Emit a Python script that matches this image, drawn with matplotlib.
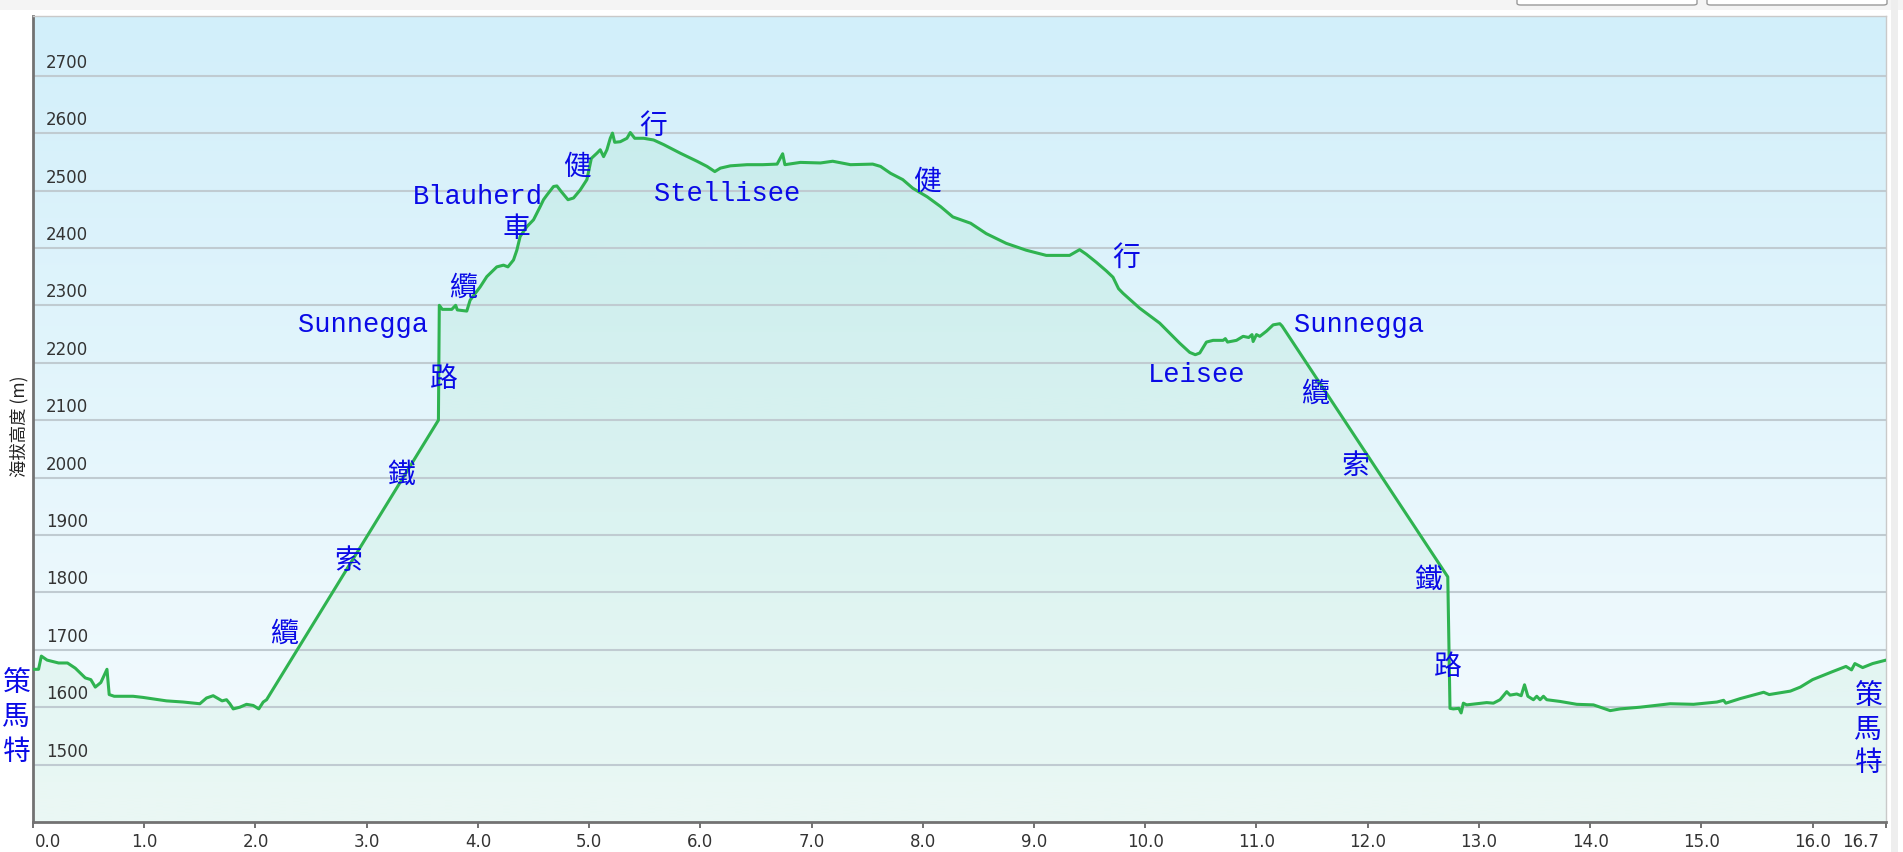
import numpy as np
import matplotlib
matplotlib.use("Agg")
import matplotlib.pyplot as plt
from matplotlib.patches import PathPatch, Rectangle, FancyBboxPatch
from matplotlib.transforms import ScaledTranslation

# ---------------- data ----------------
distance_km = [
    0.00, 0.05, 0.075, 0.127, 0.23, 0.31, 0.38, 0.47, 0.52, 0.56, 0.61, 0.665, 0.685,
    0.73, 0.90, 0.99, 1.20, 1.35, 1.50, 1.56, 1.62, 1.70, 1.74, 1.77, 1.80, 1.86, 1.92,
    1.98, 2.03, 2.07, 2.10,
    3.645, 3.653, 3.68, 3.765, 3.80, 3.815, 3.90, 3.93, 4.02, 4.08, 4.17, 4.23, 4.27,
    4.32, 4.35, 4.38, 4.44, 4.50, 4.56, 4.59, 4.62, 4.68, 4.71, 4.75, 4.81, 4.86, 4.92,
    4.98, 5.02, 5.07, 5.10, 5.13, 5.16, 5.19, 5.21, 5.23, 5.28, 5.34, 5.37, 5.41, 5.49,
    5.58, 5.67, 5.82, 5.97, 6.06, 6.13, 6.18, 6.27, 6.42, 6.56, 6.69, 6.74, 6.76, 6.90,
    7.08, 7.19, 7.35, 7.55, 7.62, 7.71, 7.82, 7.91, 8.04, 8.16, 8.27, 8.43, 8.57, 8.75,
    8.93, 9.11, 9.32, 9.41, 9.47, 9.56, 9.65, 9.71, 9.76, 9.80, 9.95, 10.13, 10.31,
    10.40, 10.45, 10.49, 10.55, 10.61, 10.70, 10.72, 10.74, 10.82, 10.88, 10.93, 10.96,
    10.97, 11.00, 11.03, 11.09, 11.15, 11.21, 11.23,
    12.72, 12.74, 12.77, 12.82, 12.84, 12.86, 12.89, 12.98, 13.07, 13.13, 13.19, 13.25,
    13.28, 13.34, 13.38, 13.41, 13.44, 13.49, 13.52, 13.55, 13.58, 13.61, 13.73, 13.88,
    14.03, 14.09, 14.18, 14.27, 14.45, 14.72, 14.93, 15.14, 15.20, 15.22, 15.35, 15.56,
    15.61, 15.80, 15.89, 16.00, 16.18, 16.30, 16.35, 16.38, 16.45, 16.54, 16.66,
]
elevation_m = [
    1666, 1666, 1689, 1682, 1677, 1677, 1668, 1651, 1648, 1635, 1643, 1666, 1622,
    1619, 1619, 1617, 1611, 1609, 1606, 1616, 1620, 1611, 1613, 1606, 1597, 1600, 1605,
    1603, 1597, 1609, 1613,
    2100, 2300, 2293, 2293, 2300, 2292, 2290, 2309, 2332, 2350, 2367, 2370, 2367,
    2379, 2396, 2420, 2437, 2449, 2472, 2484, 2492, 2507, 2508, 2498, 2484, 2487, 2501,
    2519, 2556, 2565, 2571, 2559, 2571, 2591, 2600, 2584, 2585, 2591, 2601, 2591, 2591,
    2588, 2580, 2565, 2551, 2542, 2533, 2539, 2543, 2545, 2545, 2546, 2564, 2545, 2549,
    2548, 2551, 2545, 2546, 2542, 2530, 2519, 2504, 2489, 2472, 2454, 2443, 2425, 2408,
    2396, 2387, 2387, 2397, 2389, 2375, 2360, 2349, 2329, 2321, 2295, 2269, 2234,
    2218, 2214, 2217, 2236, 2239, 2239, 2242, 2236, 2239, 2246, 2244, 2249,
    2237, 2249, 2246, 2255, 2266, 2268, 2264,
    1827, 1598, 1597, 1598, 1590, 1607, 1604, 1606, 1608, 1607, 1613, 1627,
    1621, 1623, 1620, 1639, 1619, 1613, 1619, 1613, 1619, 1613, 1610, 1605,
    1604, 1600, 1594, 1597, 1600, 1606, 1605, 1609, 1612, 1607, 1615, 1626,
    1622, 1628, 1635, 1648, 1662, 1671, 1665, 1676, 1669, 1676, 1682,
]

y_ticks = [1500, 1600, 1700, 1800, 1900, 2000, 2100, 2200, 2300, 2400, 2500, 2600, 2700]
x_ticks = [0, 1, 2, 3, 4, 5, 6, 7, 8, 9, 10, 11, 12, 13, 14, 15, 16, 16.66]
x_tick_labels = ["0.0", "1.0", "2.0", "3.0", "4.0", "5.0", "6.0", "7.0", "8.0",
                 "9.0", "10.0", "11.0", "12.0", "13.0", "14.0", "15.0", "16.0", "16.7"]
y_label = "海拔高度 (m)"

# annotation labels: (text, km, elevation)
cjk_labels = [
    ("策", -0.15, 1643), ("馬", -0.15, 1584), ("特", -0.15, 1524),
    ("纜", 2.26, 1730), ("索", 2.83, 1857), ("鐵", 3.31, 2007), ("路", 3.69, 2173),
    ("纜", 3.87, 2332), ("車", 4.35, 2434), ("健", 4.89, 2542), ("行", 5.58, 2615),
    ("健", 8.035, 2516), ("行", 9.83, 2384),
    ("纜", 11.53, 2148), ("索", 11.89, 2022), ("鐵", 12.545, 1823), ("路", 12.72, 1672),
    ("策", 16.50, 1622), ("馬", 16.50, 1562), ("特", 16.50, 1504),
]
latin_labels = [
    ("Sunnegga", 2.97, 2256), ("Blauherd", 4.00, 2479), ("Stellisee", 6.245, 2484),
    ("Leisee", 10.46, 2168), ("Sunnegga", 11.92, 2256),
]

# ---------------- figure ----------------
W, H, DPI = 1903, 853, 100
fig = plt.figure(figsize=(W / DPI, H / DPI), dpi=DPI, facecolor="white")

def fx(px):
    return px / W

def fy(py):
    return 1 - py / H

# page decorations (top band, buttons, right strip)
fig.patches.append(Rectangle((0, fy(11)), 1, 11 / H, transform=fig.transFigure,
                             facecolor="#f4f4f4", edgecolor="none", zorder=0))
for x0, x1 in [(1517, 1697), (1707, 1887)]:
    fig.patches.append(FancyBboxPatch((fx(x0), fy(6)), fx(x1 - x0), 20 / H,
                                      boxstyle="round,pad=0,rounding_size=0.002",
                                      transform=fig.transFigure, facecolor="white",
                                      edgecolor="#9a9a9a", linewidth=1.0, zorder=1))
fig.patches.append(Rectangle((fx(1891), 0), fx(7), 1, transform=fig.transFigure,
                             facecolor="#eeeeee", edgecolor="none", zorder=0))

L, R, T, B = 33, 1886, 17, 823
ax = fig.add_axes([fx(L), 1 - B / H, fx(R - L), (B - T) / H])

XMAX = 16.66
YMIN, YMAX = 1400, 2804

# background gradient
n = 256
top_c = np.array([210, 239, 250]) / 255.0
bot_c = np.array([246, 252, 254]) / 255.0
t = np.linspace(0, 1, n)[:, None]
bg = (top_c * (1 - t) + bot_c * t)[:, None, :]
ax.imshow(bg, extent=[0, XMAX, YMIN, YMAX], aspect="auto", zorder=0,
          interpolation="bilinear", origin="upper")

# fill gradient clipped under the curve
fill = ax.fill_between(distance_km, elevation_m, YMIN, facecolor="none",
                       edgecolor="none", zorder=1)
clip = PathPatch(fill.get_paths()[0], transform=ax.transData,
                 facecolor="none", edgecolor="none")
ax.add_patch(clip)
g = np.zeros((n, 1, 4))
g[..., 0] = 70 / 255
g[..., 1] = 200 / 255
g[..., 2] = 110 / 255
g[:, 0, 3] = np.linspace(0.10, 0.065, n)
im = ax.imshow(g, extent=[0, XMAX, YMIN, YMAX], aspect="auto", zorder=1,
               interpolation="bilinear", origin="upper")
im.set_clip_path(clip)

# profile line
ax.plot(distance_km, elevation_m, color="#2fb350", lw=2.2, zorder=3,
        solid_joinstyle="round", solid_capstyle="round")

ax.set_xlim(0, XMAX)
ax.set_ylim(YMIN, YMAX)

# grid
ax.set_yticks(y_ticks)
ax.yaxis.grid(True, color="#c0cbd1", lw=1.5)
ax.xaxis.grid(False)

# spines
for s in ["left", "bottom"]:
    ax.spines[s].set_color("#727272")
    ax.spines[s].set_linewidth(2.0)
for s in ["top", "right"]:
    ax.spines[s].set_color("#c9c9c9")
    ax.spines[s].set_linewidth(1.0)

# y tick labels inside plot
ax.tick_params(axis="y", length=0, pad=0, labelsize=12, labelcolor="#333333")
ax.set_yticklabels([str(v) for v in y_ticks])
off = ScaledTranslation(13 / DPI, 5 / DPI, fig.dpi_scale_trans)
for lab in ax.get_yticklabels():
    lab.set_horizontalalignment("left")
    lab.set_verticalalignment("bottom")
    lab.set_transform(lab.get_transform() + off)

# x ticks
ax.set_xticks(x_ticks)
ax.set_xticklabels(x_tick_labels)
ax.tick_params(axis="x", direction="out", length=4.5, width=1.3, color="#666666",
               pad=3, labelsize=12, labelcolor="#333333")
xl = ax.get_xticklabels()
xl[0].set_horizontalalignment("left")
xl[0].set_transform(xl[0].get_transform() + ScaledTranslation(2 / DPI, 0, fig.dpi_scale_trans))
xl[-1].set_horizontalalignment("right")
xl[-1].set_transform(xl[-1].get_transform() + ScaledTranslation(-7 / DPI, 0, fig.dpi_scale_trans))

# y label
yl = ax.set_ylabel(y_label, family=["Noto Sans CJK TC", "DejaVu Sans"], fontsize=12.5,
                   color="#222222", va="center", ha="center")
ax.yaxis.set_label_coords((19 - L) / (R - L), (B - 426) / (B - T))

# annotations
BLUE = "#0a0ae6"
for txt, xk, ye in cjk_labels:
    ax.text(xk, ye, txt, family=["Noto Sans CJK TC", "DejaVu Sans"], fontsize=20,
            color=BLUE, ha="center", va="center", zorder=5, clip_on=False)
for txt, xk, ye in latin_labels:
    ax.text(xk, ye, txt, family=["Liberation Mono", "DejaVu Sans Mono"], fontsize=19.5,
            color=BLUE, ha="center", va="baseline", zorder=5, clip_on=False)

fig.savefig("out.png", dpi=DPI, facecolor="white")
